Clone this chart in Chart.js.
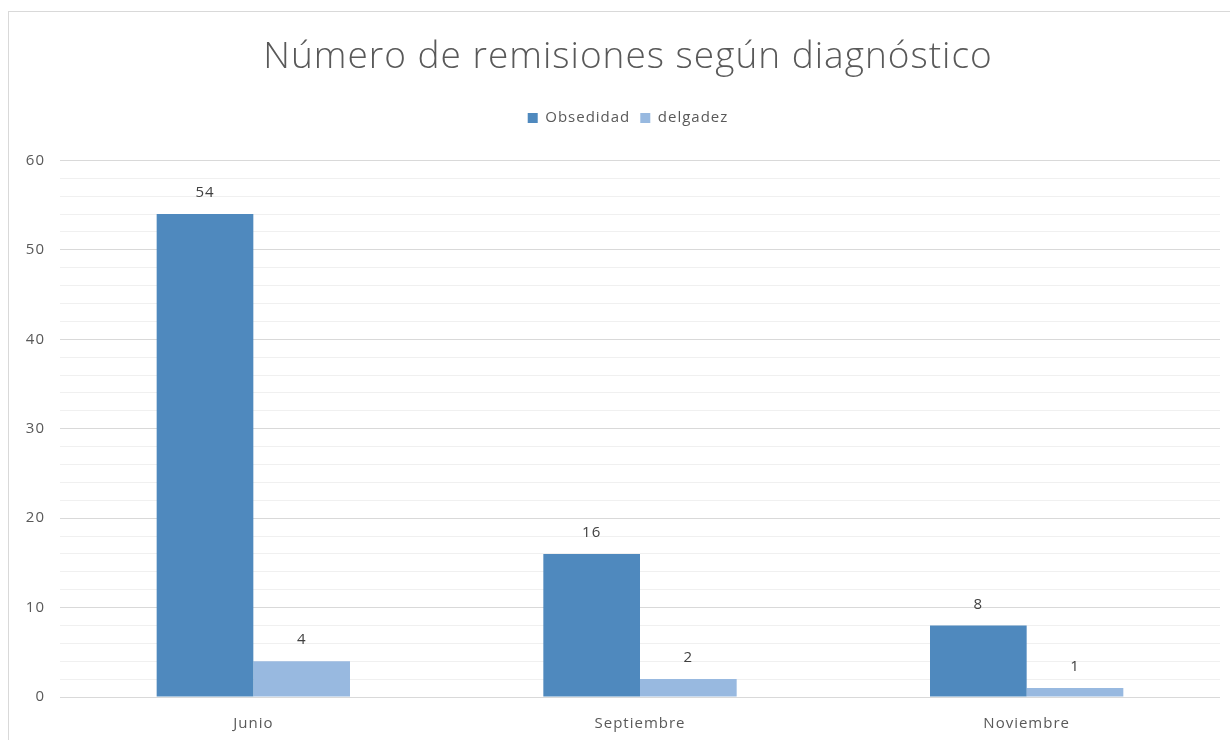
<!DOCTYPE html>
<html>
<head>
<meta charset="utf-8">
<script src="https://cdn.jsdelivr.net/npm/chart.js@4"></script>
<style>
    html, body { margin: 0; padding: 0; background: #fff; overflow: hidden; width: 1230px; height: 740px; }
    #box { position: absolute; left: 8px; top: 11px; width: 1238px; height: 748px; border: 1px solid #d9d9d9; background: #fff; }
</style>
</head>
<body>
<div id="box"><canvas id="chart"></canvas></div>
<script>
const months = ['Junio', 'Septiembre', 'Noviembre'];
const obesidad = [54, 16, 8];
const delgadez = [4, 2, 1];
const yTicks = [0, 10, 20, 30, 40, 50, 60];

const fontFamily = "'Open Sans', sans-serif";
const textGray = '#595959';

// wider letter spacing, closer to the original font
const spacing = {
    id: 'spacing',
    beforeUpdate(chart) { chart.ctx.letterSpacing = '1px'; },
    beforeDraw(chart) { chart.ctx.letterSpacing = '1px'; }
};

// values written above each bar
const barValues = {
    id: 'barValues',
    afterDatasetsDraw(chart) {
        const ctx = chart.ctx;
        ctx.save();
        ctx.font = '15px ' + fontFamily;
        ctx.fillStyle = '#404040';
        ctx.textAlign = 'center';
        ctx.textBaseline = 'middle';
        chart.data.datasets.forEach((ds, i) => {
            chart.getDatasetMeta(i).data.forEach((bar, j) => {
                ctx.fillText(ds.data[j], bar.x, bar.y - 21);
            });
        });
        ctx.restore();
    }
};

// extra room under the legend
const legendGap = {
    id: 'legendGap',
    beforeInit(chart) {
        const fit = chart.legend.fit;
        chart.legend.fit = function () {
            fit.bind(chart.legend)();
            this.height += 25;
        };
    }
};

new Chart(document.getElementById('chart'), {
    type: 'bar',
    data: {
        labels: months,
        datasets: [
            { label: 'Obsedidad', data: obesidad, backgroundColor: '#4f89be', categoryPercentage: 0.5, barPercentage: 1.0 },
            { label: 'delgadez', data: delgadez, backgroundColor: '#98b9e0', categoryPercentage: 0.5, barPercentage: 1.0 }
        ]
    },
    options: {
        responsive: true,
        maintainAspectRatio: false,
        animation: false,
        layout: { padding: { left: 0, right: 0, top: 0, bottom: 9 } },
        plugins: {
            title: {
                display: true,
                text: 'Número de remisiones según diagnóstico',
                color: textGray,
                font: { family: fontFamily, size: 37, weight: '300' },
                padding: { top: 23, bottom: 21 }
            },
            legend: {
                position: 'top',
                labels: {
                    color: textGray,
                    boxWidth: 10,
                    boxHeight: 10,
                    padding: 10,
                    font: { family: fontFamily, size: 15 }
                }
            },
            tooltip: { enabled: false }
        },
        scales: {
            x: {
                grid: { display: false, drawTicks: false },
                border: { display: false },
                ticks: { color: textGray, padding: 18, font: { family: fontFamily, size: 15 } }
            },
            y: {
                min: 0,
                max: 60,
                afterFit(scale) { scale.width = 51; },
                border: { display: false },
                grid: {
                    drawTicks: false,
                    color: c => (c.tick && yTicks.includes(c.tick.value)) ? '#d9d9d9' : '#f0f0f0'
                },
                ticks: {
                    stepSize: 2,
                    autoSkip: false,
                    padding: 15,
                    color: textGray,
                    font: { family: fontFamily, size: 15 },
                    callback: v => yTicks.includes(v) ? v : ''
                }
            },
            // empty strip on the right so the plot stops short of the frame
            yRight: {
                position: 'right',
                afterFit(scale) { scale.width = 27; },
                grid: { display: false },
                border: { display: false },
                ticks: { display: false }
            }
        }
    },
    plugins: [spacing, barValues, legendGap]
});
</script>
</body>
</html>
